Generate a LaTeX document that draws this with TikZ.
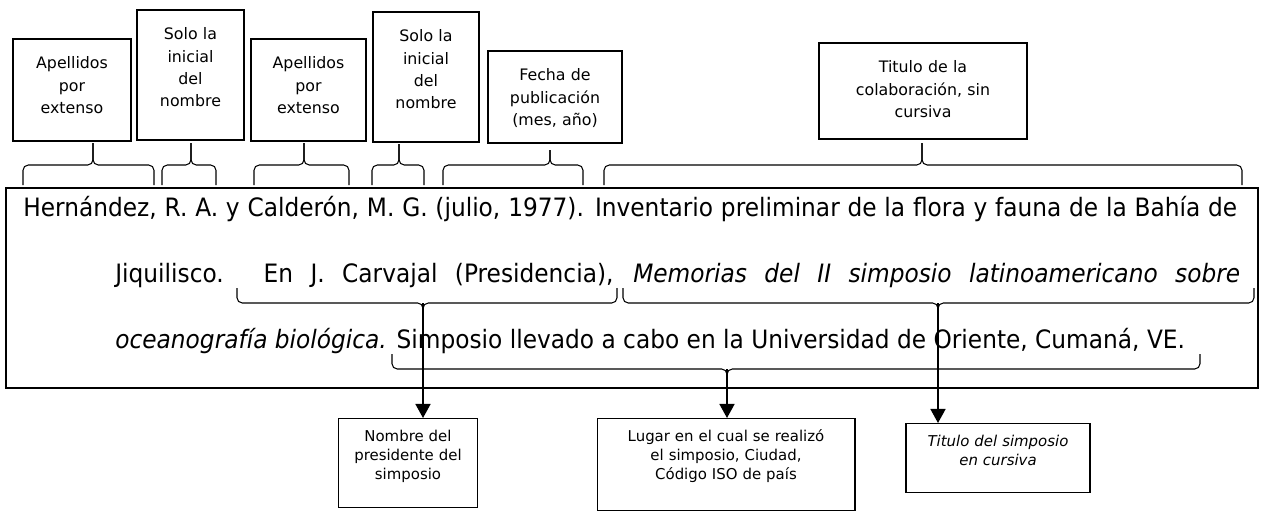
\documentclass[tikz,border=0pt]{standalone}
\usepackage{fontspec}
\setmainfont{DejaVu Sans}
\newfontfamily\reffont{DejaVu Sans}[FakeStretch=0.92]
\usepackage{tikz}
\usetikzlibrary{arrows.meta}
\tikzset{
  box/.style={draw,line width=0.9pt,align=center,inner sep=0pt,anchor=north,
    text height=0.6cm,font=\fontsize{9}{12.7}\selectfont},
  lowbox/.style={box,line width=0.6pt,text height=0.46cm,
    font=\fontsize{8.5}{10.8}\selectfont},
  refbox/.style={draw,line width=1.3pt,anchor=north west,inner sep=0pt},
  txt/.style={anchor=base west,inner sep=0pt,font=\reffont\fontsize{14.4}{17}\selectfont},
  brc/.style={line width=0.6pt,rounded corners=3pt},
  fl/.style={-{Triangle[length=8pt,width=8.5pt]},line width=1.1pt},
}

\begin{document}
\begin{tikzpicture}[x=0.02cm,y=-0.02cm]
  \useasboundingbox (0,0) rectangle (1262,512);
  % boxes above
  \node[box,text width=2.36cm,text depth=1.44cm] (a1) at (72,38) {Apellidos\\por\\extenso};
  \node[box,text width=2.14cm,text depth=2.0cm] (b1) at (190.5,9) {Solo la\\inicial\\del\\nombre};
  \node[box,text width=2.3cm,text depth=1.44cm] (a2) at (308.5,38) {Apellidos\\por\\extenso};
  \node[box,text width=2.12cm,text depth=2.0cm] (b2) at (426,11) {Solo la\\inicial\\del\\nombre};
  \node[box,text width=2.68cm,text depth=1.24cm] (fecha) at (555,50) {Fecha de\\publicación\\(mes, año)};
  \node[box,text width=4.16cm,text depth=1.32cm] (titulo) at (923,42) {Titulo de la\\colaboración, sin\\cursiva};

  % reference
  \node[refbox,minimum width=25.04cm,minimum height=4.0cm] (ref) at (5,187) {};
  \node[txt] (l1) at (23,216) {\makebox[24.28cm][s]{Hernández, R. A. y Calderón, M. G. (julio, 1977). Inventario preliminar de la flora y fauna de la Bahía de}};
  \node[txt] (l2) at (115,282) {\makebox[22.5cm][s]{Jiquilisco. En J. Carvajal (Presidencia), \textit{Memorias del II simposio latinoamericano sobre}}};
  \node[txt] (l3) at (115,348) {\textit{oceanografía biológica.} Simposio llevado a cabo en la Universidad de Oriente, Cumaná, VE.};

  % boxes below
  \node[lowbox,text width=2.78cm,text depth=1.32cm] (nom) at (408,418) {Nombre del\\presidente del\\simposio};
  \node[lowbox,text width=5.16cm,text depth=1.38cm] (lugar) at (726,418) {Lugar en el cual se realizó\\el simposio, Ciudad,\\Código ISO de país};
  \node[lowbox,text width=3.68cm,text depth=0.92cm] (tsim) at (998,423) {\textit{Titulo del simposio}\\\textit{en cursiva}};

  % braces over the reference
  \foreach \a/\b/\t/\u in {23/154/93/143,162/216/191/143,254/349/304/143,
      372/424/399/144,443/583/550/150,604/1242/922/143}{
    \draw[brc] (\a,185) -- (\a,165) -- (\t,165) -- (\t,\u);
    \draw[brc] (\b,185) -- (\b,165) -- (\t,165) -- (\t,\u);
  }

  % braces under the text
  \foreach \a/\b/\t/\v in {237/617/423/303,623/1254/938/303,392/1200/727/369}{
    \draw[brc] (\a,\v-15) -- (\a,\v) -- (\t,\v) -- (\t,\v+8);
    \draw[brc] (\b,\v-15) -- (\b,\v) -- (\t,\v) -- (\t,\v+8);
  }
  \coordinate (ta) at (423,303);
  \coordinate (tb) at (938,303);
  \coordinate (tc) at (727,369);

  \draw[fl] (ta) -- (ta |- nom.north);
  \draw[fl] (tc) -- (tc |- lugar.north);
  \draw[fl] (tb) -- (tb |- tsim.north);
\end{tikzpicture}
\end{document}
